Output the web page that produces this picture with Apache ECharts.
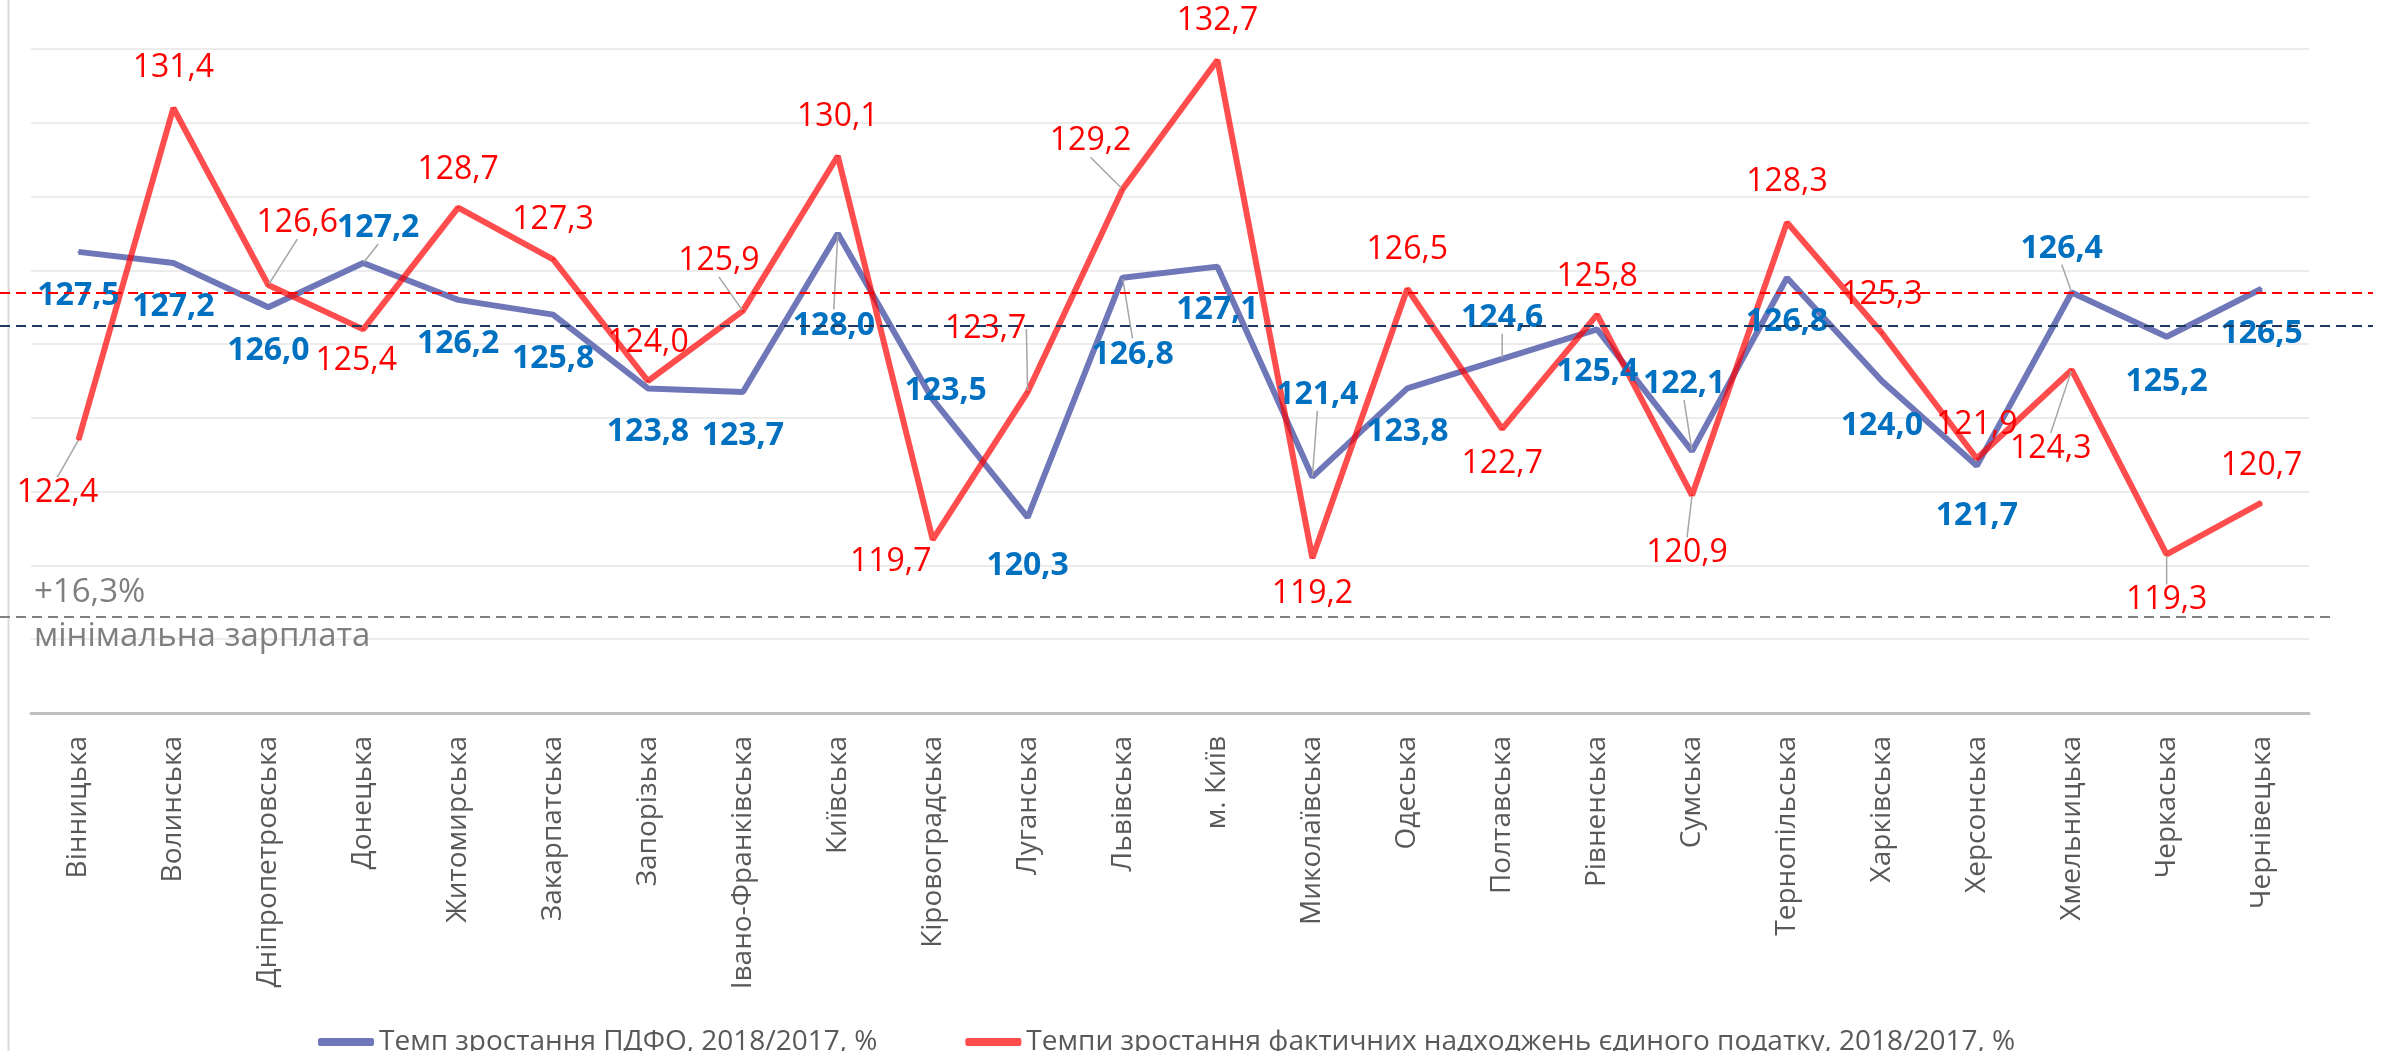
<!DOCTYPE html>
<html>
<head>
<meta charset="utf-8">
<script src="https://cdn.jsdelivr.net/npm/echarts@6/dist/echarts.min.js"></script>
<style>
  html, body { margin: 0; padding: 0; background: #fff; }
  #chart { width: 2384px; height: 1051px; }
</style>
</head>
<body>
<div id="chart"></div>
<script>
// categories and values
const regions = [
  'Вінницька', 'Волинська', 'Дніпропетровська', 'Донецька', 'Житомирська',
  'Закарпатська', 'Запорізька', 'Івано-Франківська', 'Київська', 'Кіровоградська',
  'Луганська', 'Львівська', 'м. Київ', 'Миколаївська', 'Одеська', 'Полтавська',
  'Рівненська', 'Сумська', 'Тернопільська', 'Харківська', 'Херсонська',
  'Хмельницька', 'Черкаська', 'Чернівецька'
];
const pdfoGrowth = [
  127.5, 127.2, 126.0, 127.2, 126.2, 125.8, 123.8, 123.7, 128.0, 123.5, 120.3, 126.8,
  127.1, 121.4, 123.8, 124.6, 125.4, 122.1, 126.8, 124.0, 121.7, 126.4, 125.2, 126.5
];
const singleTaxGrowth = [
  122.4, 131.4, 126.6, 125.4, 128.7, 127.3, 124.0, 125.9, 130.1, 119.7, 123.7, 129.2,
  132.7, 119.2, 126.5, 122.7, 125.8, 120.9, 128.3, 125.3, 121.9, 124.3, 119.3, 120.7
];
const pdfoUkraine = 125.5;
const singleTaxUkraine = 126.4;
const minWageLevel = 117.6;
const seriesNames = [
  'Темп зростання ПДФО, 2018/2017, %',
  'Темпи зростання фактичних надходжень єдиного податку, 2018/2017, %'
];

// label placement (px shift of label centre from the point)
const pdfoShift = [
  [0, 44], [0, 44], [0, 44], [15, -35], [0, 44], [0, 44], [0, 44], [0, 44],
  [-4, 92], [13, -9], [0, 48], [10, 77], [0, 43], [5, -82], [0, 44], [0, -41],
  [0, 43], [-8, -67], [0, 44], [0, 45], [0, 50], [-10, -44], [0, 45], [0, 45]
];
const taxShift = [
  [-21, 53], [0, -40], [29, -62], [-7, 32], [0, -38], [0, -39], [0, -38], [-24, -50],
  [0, -39], [-42, 22], [-42, -63], [-32, -48], [0, -39], [0, 36], [0, -39], [0, 35],
  [0, -38], [-5, 58], [0, -40], [0, -38], [0, -34], [-21, 79], [0, 46], [0, -37]
];
const pdfoLeaders = [3, 8, 11, 13, 15, 17, 21];
const taxLeaders = [0, 2, 7, 10, 11, 17, 21, 22];

const FONT = '"Open Sans", "Noto Sans", sans-serif';
const BLUE = '#6f77b9';
const RED = 'rgba(255, 0, 0, 0.7)';

const fmt = v => v.toFixed(1).replace('.', ',');

const toItems = (values, leaders) => values.map((v, i) => ({
  value: v,
  labelLine: { show: leaders.includes(i) }
}));

const chart = echarts.init(document.getElementById('chart'));

const option = {
  animation: false,
  textStyle: { fontFamily: FONT },
  grid: { left: 31, right: 75, top: 49, bottom: 338 },
  legend: {
    left: 313,
    top: 1023,
    itemWidth: 56,
    itemHeight: 8,
    itemGap: 88,
    icon: 'roundRect',
    textStyle: { fontSize: 28, color: '#595959', fontFamily: FONT },
    data: seriesNames
  },
  xAxis: {
    type: 'category',
    data: regions,
    axisLine: { lineStyle: { color: '#bfbfbf', width: 3 } },
    axisTick: { show: false },
    axisLabel: {
      rotate: 90,
      interval: 0,
      margin: 23,
      fontSize: 28,
      color: '#595959',
      fontFamily: FONT
    }
  },
  yAxis: {
    type: 'value',
    min: 115,
    max: 133,
    interval: 2,
    axisLabel: { show: false },
    axisLine: { show: false },
    axisTick: { show: false },
    splitLine: { lineStyle: { color: '#ececec', width: 2 } }
  },
  graphic: [{
    type: 'line',
    shape: { x1: 8.5, y1: 0, x2: 8.5, y2: 1051 },
    style: { stroke: '#d9d9d9', lineWidth: 2 },
    silent: true
  }],
  series: [
    {
      name: seriesNames[0],
      type: 'line',
      data: toItems(pdfoGrowth, pdfoLeaders),
      symbol: 'circle',
      symbolSize: 2,
      lineStyle: { color: BLUE, width: 6 },
      itemStyle: { color: BLUE },
      label: {
        show: true,
        position: 'inside',
        formatter: p => fmt(p.value),
        color: '#0070c0',
        fontWeight: 'bold',
        fontSize: 32,
        fontFamily: FONT
      },
      labelLine: { lineStyle: { color: '#a6a6a6', width: 1.5 } },
      labelLayout: p => ({ dx: pdfoShift[p.dataIndex][0], dy: pdfoShift[p.dataIndex][1] }),
      markLine: {
        silent: true,
        symbol: ['none', 'none'],
        lineStyle: { color: '#1f3a5f', width: 2, type: [10, 6] },
        label: { show: false },
        data: [[{ x: 0, yAxis: pdfoUkraine }, { x: 2373, yAxis: pdfoUkraine }]]
      }
    },
    {
      name: seriesNames[1],
      type: 'line',
      data: toItems(singleTaxGrowth, taxLeaders),
      symbol: 'circle',
      symbolSize: 2,
      lineStyle: { color: RED, width: 6 },
      itemStyle: { color: RED },
      label: {
        show: true,
        position: 'inside',
        formatter: p => fmt(p.value),
        color: '#ff0000',
        fontSize: 32,
        fontFamily: FONT
      },
      labelLine: { lineStyle: { color: '#a6a6a6', width: 1.5 } },
      labelLayout: p => ({ dx: taxShift[p.dataIndex][0], dy: taxShift[p.dataIndex][1] }),
      markLine: {
        silent: true,
        symbol: ['none', 'none'],
        label: { show: false },
        data: [
          [
            { x: 0, yAxis: singleTaxUkraine, lineStyle: { color: '#ff0000', width: 2, type: [10, 6] } },
            { x: 2373, yAxis: singleTaxUkraine }
          ],
          [
            {
              x: 0, yAxis: minWageLevel,
              lineStyle: { color: '#808080', width: 2, type: [10, 6] },
              label: {
                show: true, position: 'insideStartTop', formatter: '+16,3%',
                distance: [34, 8], color: '#7f7f7f', fontSize: 33, fontFamily: FONT
              }
            },
            { x: 2334, yAxis: minWageLevel }
          ],
          [
            {
              x: 0, yAxis: minWageLevel - 0.01,
              lineStyle: { color: 'rgba(255,255,255,0)', width: 1, type: 'solid' },
              label: {
                show: true, position: 'insideStartBottom', formatter: 'мінімальна зарплата',
                distance: [34, 3], color: '#7f7f7f', fontSize: 33, fontFamily: FONT
              }
            },
            { x: 2334, yAxis: minWageLevel - 0.01 }
          ]
        ]
      }
    }
  ]
};

chart.setOption(option);
</script>
</body>
</html>
